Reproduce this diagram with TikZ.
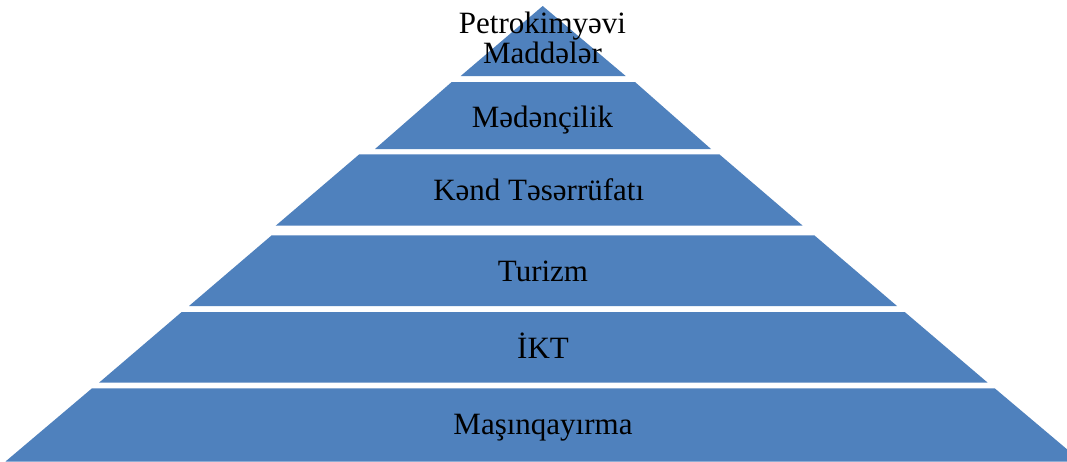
\documentclass[tikz,border=0pt]{standalone}
\usepackage{fontspec}
\setmainfont{Liberation Serif}
\definecolor{layerblue}{HTML}{4F81BD}
\begin{document}
\begin{tikzpicture}[x=1pt,y=-1pt,
  layer/.style={fill=layerblue},
  lbl/.style={font=\fontsize{31}{30}\selectfont, text=black, inner sep=0pt, anchor=base}]
\useasboundingbox (0,0) rectangle (1067,461);
\clip (0,0) rectangle (1067,461);
\fill[white] (0,0) rectangle (1067,461);
% layers
\fill[layer] (542.7,6) -- (625.7,76) -- (460.7,76) -- cycle;
\fill[layer] (451.7,82) -- (635,82) -- (711,149) -- (375,149) -- cycle;
\fill[layer] (359.3,154.3) -- (719.3,154.3) -- (802.7,225.7) -- (275.7,225.7) -- cycle;
\fill[layer] (271.7,235.3) -- (814.3,235.3) -- (897,306) -- (189,306) -- cycle;
\fill[layer] (181.7,312) -- (904.7,312) -- (987.7,382.7) -- (99,382.7) -- cycle;
\fill[layer] (92,388.3) -- (994.7,388.3) -- (1081.5,461.5) -- (5.5,461.5) -- cycle;
% labels
\node[lbl, align=center] (petro) at (542.5,63) {Petrokimyəvi\\Maddələr};
\node[lbl] (meden) at (542.5,127) {Mədənçilik};
\node[lbl] (kend) at (538.7,200) {Kənd Təsərrüfatı};
\node[lbl] (turizm) at (543,281) {Turizm};
\node[lbl] (ikt) at (543,358) {İKT};
\node[lbl] (masin) at (543,434) {Maşınqayırma};
\end{tikzpicture}
\end{document}
